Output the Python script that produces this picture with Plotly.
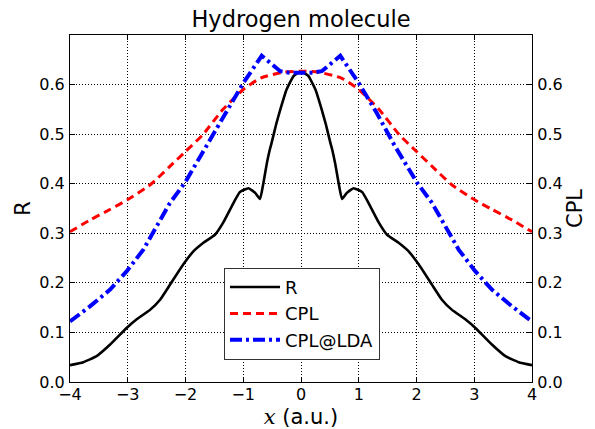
import plotly.graph_objects as go

# R (black solid)
r_x = [-4.0, -3.77, -3.54, -3.31, -3.02, -2.85, -2.61, -2.44, -2.27, -2.04, -1.86, -1.69, -1.49, -1.35,
       -1.17, -1.06, -0.91, -0.79, -0.71, -0.65, -0.59, -0.54, -0.51, -0.43, -0.36, -0.25, -0.13, 0.0,
       0.13, 0.25, 0.36, 0.43, 0.51, 0.54, 0.59, 0.65, 0.71, 0.79, 0.91, 1.06, 1.17,
       1.35, 1.49, 1.69, 1.86, 2.04, 2.27, 2.44, 2.61, 2.85, 3.02, 3.31, 3.54, 3.77, 4.0]
r_y = [0.034, 0.040, 0.052, 0.075, 0.109, 0.126, 0.146, 0.166, 0.196, 0.237, 0.264, 0.281, 0.297, 0.321,
       0.361, 0.383, 0.391, 0.381, 0.369, 0.402, 0.442, 0.469, 0.482, 0.520, 0.549, 0.590, 0.617, 0.627,
       0.617, 0.590, 0.549, 0.520, 0.482, 0.469, 0.442, 0.402, 0.369, 0.381, 0.391, 0.383, 0.361,
       0.321, 0.297, 0.281, 0.264, 0.237, 0.196, 0.166, 0.146, 0.126, 0.109, 0.075, 0.052, 0.040, 0.034]

# CPL (red dashed)
cpl_x = [-4.0, -3.65, -3.31, -3.0, -2.61, -2.27, -2.0, -1.7, -1.35, -1.0, -0.7, -0.3, 0.0,
         0.3, 0.7, 1.0, 1.35, 1.7, 2.0, 2.27, 2.61, 3.0, 3.31, 3.65, 4.0]
cpl_y = [0.303, 0.327, 0.348, 0.368, 0.398, 0.435, 0.465, 0.499, 0.550, 0.590, 0.613, 0.625, 0.627,
         0.625, 0.613, 0.590, 0.550, 0.499, 0.465, 0.435, 0.398, 0.368, 0.348, 0.327, 0.303]

# CPL@LDA (blue dash-dot)
lda_x = [-4.0, -3.65, -3.31, -3.02, -2.73, -2.5, -2.27, -2.01, -1.81, -1.63, -1.3, -1.0, -0.68, -0.36, -0.2, 0.0,
         0.2, 0.36, 0.68, 1.0, 1.3, 1.63, 1.81, 2.01, 2.27, 2.5, 2.73, 3.02, 3.31, 3.65, 4.0]
lda_y = [0.122, 0.153, 0.186, 0.223, 0.267, 0.314, 0.361, 0.402, 0.442, 0.475, 0.545, 0.603, 0.658, 0.627, 0.624, 0.624,
         0.624, 0.627, 0.658, 0.603, 0.545, 0.475, 0.442, 0.402, 0.361, 0.314, 0.267, 0.223, 0.186, 0.153, 0.122]

x_ticks = [-4, -3, -2, -1, 0, 1, 2, 3, 4]
x_tick_labels = ["\u22124", "\u22123", "\u22122", "\u22121", "0", "1", "2", "3", "4"]
y_ticks = [0.0, 0.1, 0.2, 0.3, 0.4, 0.5, 0.6]
y_tick_labels = ["0.0", "0.1", "0.2", "0.3", "0.4", "0.5", "0.6"]

FONT = "DejaVu Sans"

fig = go.Figure()
fig.add_trace(go.Scatter(x=r_x, y=r_y, mode="lines", name="R",
                         line=dict(color="black", width=2.6, shape="spline", smoothing=0.4)))
fig.add_trace(go.Scatter(x=cpl_x, y=cpl_y, mode="lines", name="CPL",
                         line=dict(color="#ff0000", width=3, dash="8px,5px", shape="spline", smoothing=0.6)))
fig.add_trace(go.Scatter(x=lda_x, y=lda_y, mode="lines", name="CPL@LDA",
                         line=dict(color="#0000ff", width=4, dash="12px,4px,3px,4px")))
# invisible trace to activate right axis
fig.add_trace(go.Scatter(x=[0], y=[0], yaxis="y2", mode="lines", showlegend=False,
                         line=dict(width=0), hoverinfo="skip", opacity=0))

axis_common = dict(
    showline=True, linecolor="black", linewidth=1.2, automargin=False,
    ticks="inside", ticklen=5, tickwidth=1, tickcolor="black",
    showgrid=True, gridcolor="black", gridwidth=1, griddash="1px,2px",
    zeroline=False, tickfont=dict(family=FONT, size=16, color="black"),
)

fig.update_layout(
    width=595, height=429,
    margin=dict(l=70, r=63, t=35, b=47),
    paper_bgcolor="white", plot_bgcolor="white",
    font=dict(family=FONT, color="black"),
    title=dict(text="Hydrogen molecule", x=0.5, xref="paper", xanchor="center",
               y=1, yref="container", yanchor="top", pad=dict(t=11),
               font=dict(family=FONT, size=22.5, color="black")),
    xaxis=dict(range=[-4, 4], tickvals=x_ticks, ticktext=x_tick_labels, mirror="ticks",
               title=dict(text="<span style=\"font-family:'DejaVu Serif'\"><i>x</i></span> (a.u.)",
                          font=dict(family=FONT, size=21, color="black"), standoff=8),
               ticklabelstandoff=-2, **axis_common),
    yaxis=dict(range=[0, 0.7], tickvals=y_ticks, ticktext=y_tick_labels,
               title=dict(text="R", font=dict(family=FONT, size=21, color="black"), standoff=2),
               ticklabelstandoff=1, **axis_common),
    yaxis2=dict(range=[0, 0.7], tickvals=y_ticks, ticktext=y_tick_labels, overlaying="y", side="right",
                title=dict(text="CPL", font=dict(family=FONT, size=21, color="black"), standoff=5),
                ticklabelstandoff=1, **{**axis_common, "showgrid": False}),
    legend=dict(x=0.3333, y=0.329, xanchor="left", yanchor="top",
                bgcolor="white", bordercolor="#333333", borderwidth=1,
                font=dict(family=FONT, size=18, color="black"),
                itemwidth=50, tracegroupgap=0),
    showlegend=True,
)

fig.write_html("out.html", config={"displayModeBar": False},
               post_script="document.body.style.margin='0';")
